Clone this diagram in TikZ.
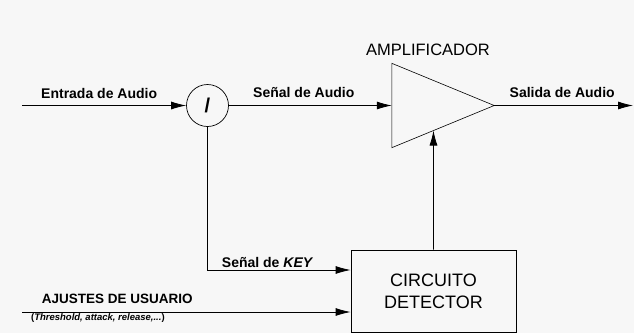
\documentclass[tikz,border=0pt]{standalone}
\usepackage{fontspec}
\setmainfont{Liberation Sans}
\usetikzlibrary{arrows.meta, positioning, backgrounds, calc}
\definecolor{paper}{RGB}{247,247,247}

\begin{document}
\begin{tikzpicture}[
    x=1pt, y=-1pt,
    background rectangle/.style={fill=paper},
    inner frame sep=0pt,
    show background rectangle,
    % Styles for blocks and arrows
    block/.style={draw, rectangle, minimum width=165pt, minimum height=82pt, line width=0.8pt, align=center, font=\fontsize{18}{22}\selectfont},
    sum/.style={draw, circle, inner sep=0pt, minimum size=42pt, line width=0.7pt, font=\fontsize{20}{20}\selectfont\bfseries},
    amp/.style={rectangle, inner sep=0pt, minimum width=102pt, minimum height=84pt},
    connector/.style={-{Latex[length=15pt, width=8pt]}, line width=0.8pt},
    lbl/.style={inner sep=0pt, font=\fontsize{14}{16}\selectfont\bfseries},
    note/.style={inner sep=0pt, font=\fontsize{9.5}{11}\selectfont\bfseries}
]
    \useasboundingbox (0,0) rectangle (634,333);

    % --- NODES ---
    % Starting from left to right
    \coordinate (input) at (22,105.5);
    \node [sum] (div) at (207.5,105.5) {/};
    \node [amp] (amp) at (443,105.5) {};
    \coordinate (output) at (633,105.5);
    \node [anchor=base, inner sep=0pt, font=\fontsize{16.5}{18}\selectfont] (amptitle) at (428,55) {AMPLIFICADOR};

    % Detector block and user settings
    \node [block] (det) at (433.5,291) {CIRCUITO\\DETECTOR};
    \coordinate (user) at (22,312);

    % Amplifier outline
    \draw [line width=0.6pt] (amp.north west) -- (amp.east) -- (amp.south west) -- cycle;
    \coordinate (ampbot) at ($(amp.south west)!0.407!(amp.east)$);

    % --- CONNECTIONS ---
    % Forward path
    \draw [connector] (input) -- (div) node[lbl, pos=0.47, above=6.5pt] {Entrada de Audio};
    \draw [connector] (div) -- (amp.west) node[lbl, pos=0.46, above=7pt] {Señal de Audio};
    \draw [connector] (amp.east) -- (output) node[lbl, pos=0.49, above=7pt] {Salida de Audio};

    % Key path
    \draw [connector] (div.south) |- ([yshift=21pt]det.west) node[lbl, pos=0.71, above=2pt] {Señal de \textit{KEY}};

    % User settings
    \draw [connector] (user) -- ([yshift=-21pt]det.west)
        node[lbl, pos=0.29, above=7.5pt, font=\fontsize{13.5}{16}\selectfont\bfseries] {AJUSTES DE USUARIO}
        node[note, pos=0.231, below=1.5pt] {(\textit{Threshold, attack, release,...})};

    % Gain control
    \draw [connector] (det.north) -- (ampbot);

\end{tikzpicture}
\end{document}
